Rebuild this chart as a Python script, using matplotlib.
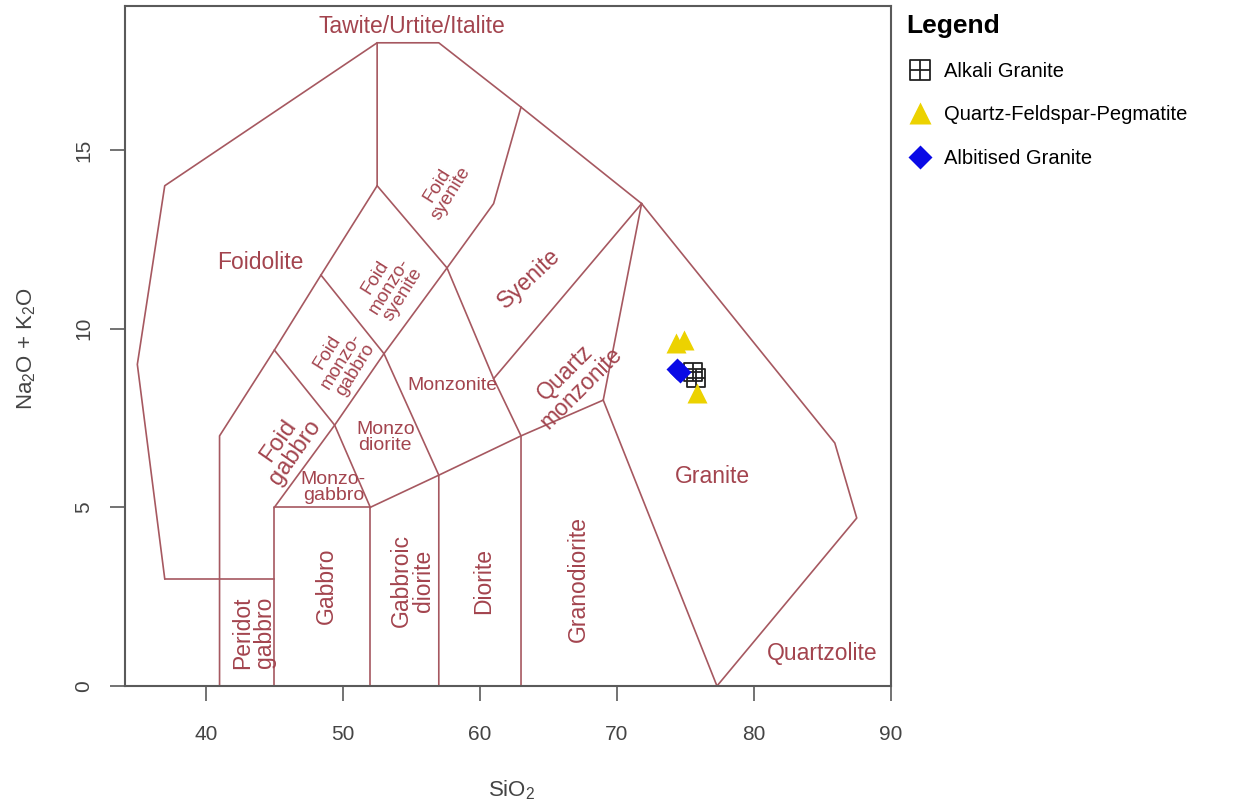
# TAS classification of plutonic rocks (Middlemost 1994) with sample data
import numpy as np
import matplotlib.pyplot as plt
from matplotlib.path import Path


plt.rcParams['font.family'] = ['Liberation Sans', 'DejaVu Sans']
plt.rcParams['mathtext.fontset'] = 'custom'
plt.rcParams['mathtext.rm'] = 'Liberation Sans'
plt.rcParams['mathtext.it'] = 'Liberation Sans:italic'


# Field boundaries (SiO2, Na2O+K2O)
outline = [(37, 3), (35, 9), (37, 14), (52.5, 18), (57, 18), (63, 16.2),
           (71.8, 13.5), (85.9, 6.8), (87.5, 4.7), (77.3, 0)]
boundaries = [
    [(37, 3), (45, 3)],
    [(52.5, 18), (52.5, 14), (48.4, 11.5), (45, 9.4), (41, 7), (41, 0)],
    [(45, 0), (45, 5), (52, 5), (52, 0)],
    [(45, 9.4), (49.4, 7.3), (52, 5)],
    [(48.4, 11.5), (53, 9.3), (57, 5.9), (57, 0)],
    [(45, 5), (49.4, 7.3), (53, 9.3), (57.6, 11.7), (61, 13.5), (63, 16.2)],
    [(52.5, 14), (57.6, 11.7), (61, 8.6), (63, 7), (63, 0)],
    [(52, 5), (57, 5.9), (63, 7), (69, 8), (71.8, 13.5)],
    [(61, 8.6), (71.8, 13.5)],
    [(69, 8), (77.3, 0)],
]

# Field names: text, SiO2, alkalis, rotation, size
field_names = [
    ('Tawite/Urtite/Italite', 55.0, 18.45, 0, 16.5),
    ('Foidolite', 44.0, 11.85, 0, 16.5),
    ('Foid\nsyenite', 57.4, 13.9, 58, 13.5),
    ('Foid\nmonzo-\nsyenite', 53.4, 11.2, 58, 13.5),
    ('Foid\nmonzo-\ngabbro', 49.9, 9.1, 58, 13.5),
    ('Foid\ngabbro', 45.9, 6.7, 55, 17),
    ('Syenite', 63.6, 11.4, 43, 16.5),
    ('Quartz\nmonzonite', 66.8, 8.55, 45, 16.5),
    ('Monzonite', 58.0, 8.4, 0, 14),
    ('Monzo\ndiorite', 53.1, 6.95, 0, 14),
    ('Monzo-\ngabbro', 49.3, 5.55, 0, 14),
    ('Peridot\ngabbro', 43.5, 1.5, 90, 16.5),
    ('Gabbro', 48.8, 2.8, 90, 16.5),
    ('Gabbroic\ndiorite', 55.1, 2.95, 90, 16.5),
    ('Diorite', 60.3, 2.95, 90, 16.5),
    ('Granodiorite', 67.2, 3.0, 90, 16.5),
    ('Granite', 77.0, 5.85, 0, 16.5),
    ('Quartzolite', 85.0, 0.9, 0, 16.5),
]

# Samples
alkali_sio2 = [75.55, 75.8]
alkali_alk = [8.8, 8.62]
qfp_sio2 = [74.3, 74.9, 75.85]
qfp_alk = [9.6, 9.68, 8.2]
albitised_sio2 = [74.35, 74.6]
albitised_alk = [8.88, 8.8]

line_col = '#a65860'
text_col = '#a3444e'
axis_col = '#5a5a5a'

# square with a cross inside, like R pch 12
sq_plus = Path([(-1, -1), (1, -1), (1, 1), (-1, 1), (-1, -1),
                (0, -1), (0, 1), (-1, 0), (1, 0)],
               [Path.MOVETO, Path.LINETO, Path.LINETO, Path.LINETO, Path.CLOSEPOLY,
                Path.MOVETO, Path.LINETO, Path.MOVETO, Path.LINETO])

fig = plt.figure(figsize=(12.57, 8.07), dpi=100)
ax = fig.add_axes([125 / 1257, 1 - 686 / 807, 766 / 1257, 680 / 807])

xs, ys = zip(*outline)
ax.plot(xs, ys, color=line_col, lw=1.2)
for seg in boundaries:
    xs, ys = zip(*seg)
    ax.plot(xs, ys, color=line_col, lw=1.2)

for name, x, y, rot, size in field_names:
    ax.text(x, y, name, color=text_col, fontsize=size, rotation=rot,
            ha='center', va='center', rotation_mode='anchor',
            multialignment='center', linespacing=0.95)

h1, = ax.plot(alkali_sio2, alkali_alk, ls='none', marker=sq_plus, ms=13,
              mfc='none', mec='#222222', mew=1.3, label='Alkali Granite')
h2, = ax.plot(qfp_sio2, qfp_alk, ls='none', marker='^', ms=15,
              color='#ecd200', mec='none', label='Quartz-Feldspar-Pegmatite')
h3, = ax.plot(albitised_sio2, albitised_alk, ls='none', marker='D', ms=11,
              color='#0a0ae6', mec='none', label='Albitised Granite')

ax.set_xlim(34.1, 90)
ax.set_ylim(0, 19.03)
ax.set_xticks([40, 50, 60, 70, 80, 90])
ax.set_yticks([0, 5, 10, 15])
for s in ax.spines.values():
    s.set_color(axis_col)
    s.set_linewidth(1.5)
ax.tick_params(colors=axis_col, length=11, width=1.2, labelsize=15,
               labelcolor='#444444')
ax.tick_params(axis='x', pad=17)
ax.tick_params(axis='y', pad=12)
for lab in ax.get_yticklabels():
    lab.set_rotation(90)
    lab.set_va('center')

fig.text(27 / 1257, 1 - 348 / 807, r'Na$_2$O + K$_2$O', rotation=90,
         ha='center', va='center', fontsize=16, color='#444444')
fig.text(512 / 1257, 1 - 790 / 807, r'SiO$_2$', ha='center', va='center',
         fontsize=16, color='#444444')

leg = fig.legend(handles=[h1, h2, h3], loc='upper left',
                 bbox_to_anchor=(898 / 1257, 1 - 6 / 807), frameon=False,
                 fontsize=14.5, title='Legend', labelspacing=1.2,
                 handletextpad=0.5, handlelength=1.4, borderaxespad=0,
                 markerscale=1.1)
leg.get_title().set_fontweight('bold')
leg.get_title().set_fontsize(19)
leg._legend_box.align = 'left'

fig.savefig('out.png', dpi=100)
